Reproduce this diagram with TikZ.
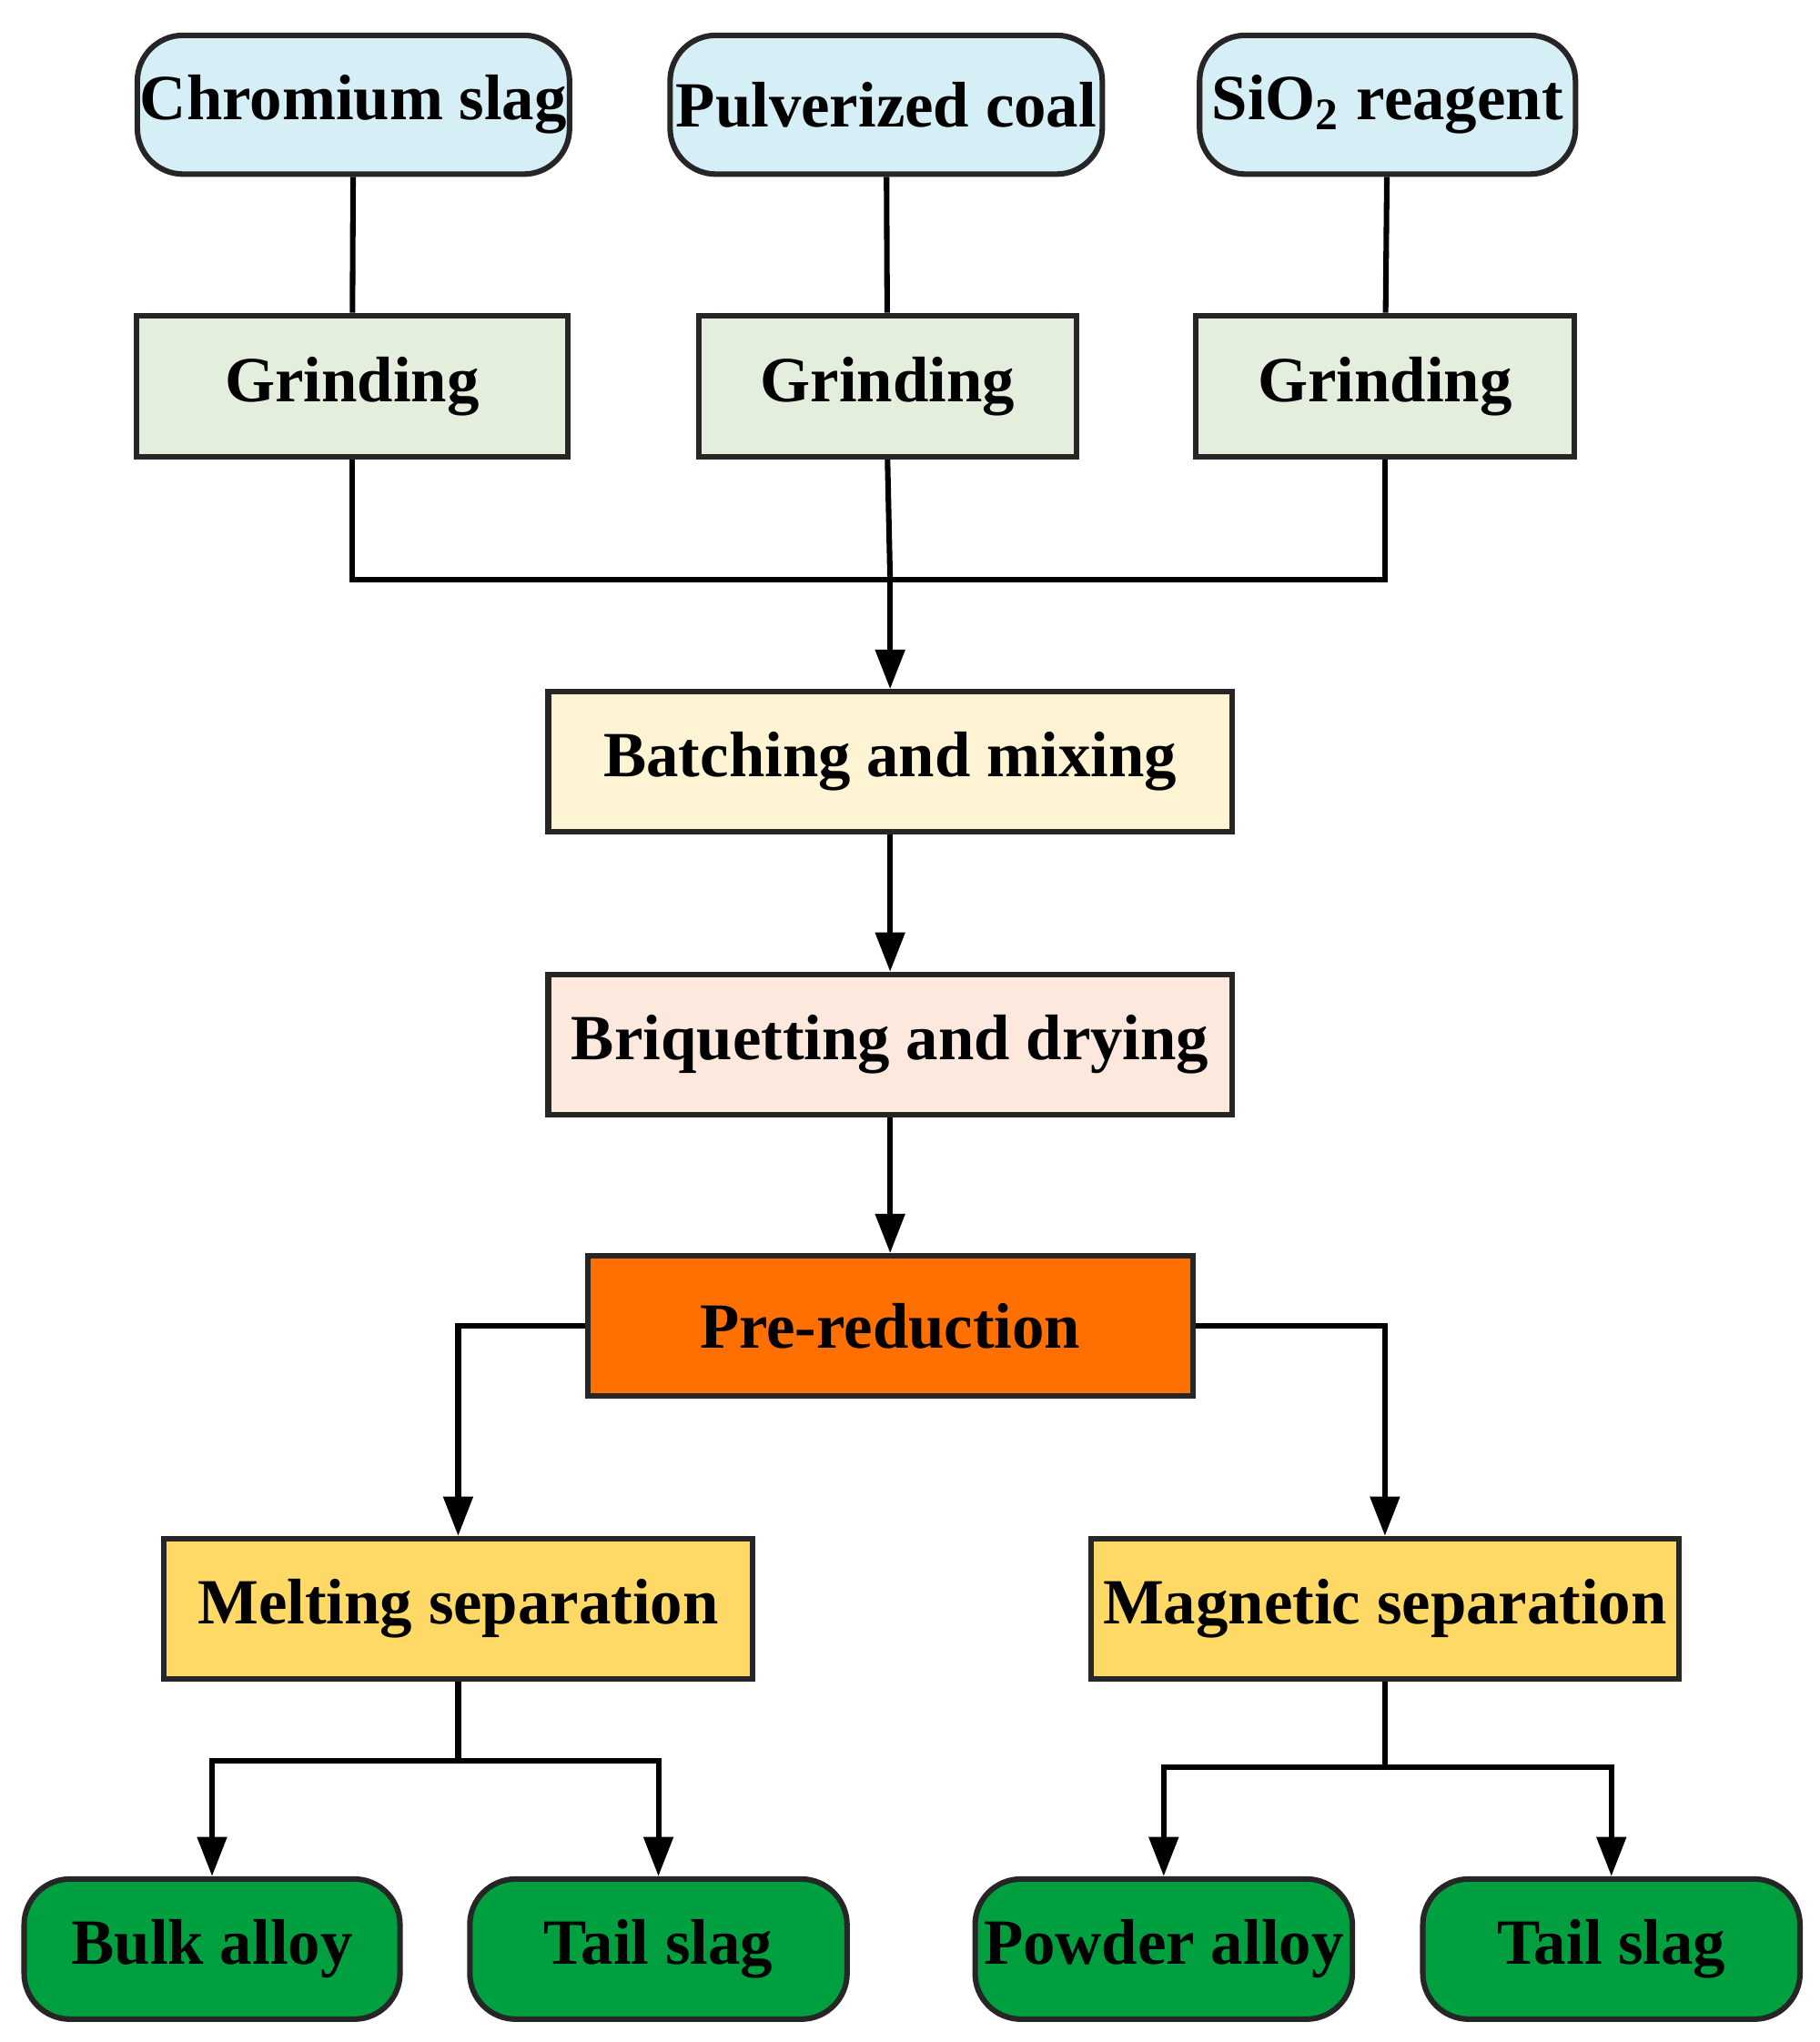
\documentclass[tikz,border=0pt]{standalone}
\usepackage{fontspec}
\setmainfont{Liberation Serif}
\usetikzlibrary{arrows.meta}
\begin{document}
\begin{tikzpicture}[x=0.01cm,y=-0.01cm,
 box/.style={draw=black!85,line width=1.2pt,font=\fontsize{14}{16}\selectfont\bfseries,inner sep=0pt},
 rbox/.style={box,rounded corners=0.35cm},
 ln/.style={line width=1.2pt},
 ar/.style={ln,-{Triangle[length=0.3cm,width=0.22cm]}}]
\useasboundingbox (0,0) rectangle (1390,1560);
\definecolor{cblue}{HTML}{D6EEF5}
\definecolor{cgreen}{HTML}{E4EEDD}
\definecolor{cbatch}{HTML}{FEF4D4}
\definecolor{cbriq}{HTML}{FCE8DD}
\definecolor{cpre}{HTML}{FF7000}
\definecolor{cyel}{HTML}{FFD966}
\definecolor{cout}{HTML}{00A040}
\def\bx#1#2#3#4#5#6#7{\node[#7,fill=#6,minimum width={(#3-#2)*0.01cm},minimum height={(#5-#4)*0.01cm}] (#1) at ({(#2+#3)/2},{(#4+#5)/2}) {};}
\node[rbox,fill=cblue,minimum width=3.3cm,minimum height=1.06cm] (cs) at (270,80) {Chromium slag};
\node[rbox,fill=cblue,minimum width=3.3cm,minimum height=1.06cm] (pc) at (677,80) {Pulverized coal};
\node[rbox,fill=cblue,minimum width=2.87cm,minimum height=1.06cm] (si) at (1060,80) {SiO\textsubscript{2} reagent};
\node[box,fill=cgreen,minimum width=3.29cm,minimum height=1.08cm] (g1) at (269,295) {Grinding};
\node[box,fill=cgreen,minimum width=2.88cm,minimum height=1.08cm] (g2) at (678,295) {Grinding};
\node[box,fill=cgreen,minimum width=2.89cm,minimum height=1.08cm] (g3) at (1058,295) {Grinding};
\node[box,fill=cbatch,minimum width=5.22cm,minimum height=1.07cm] (bm) at (680,582) {Batching and mixing};
\node[box,fill=cbriq,minimum width=5.22cm,minimum height=1.07cm] (bd) at (680,798) {Briquetting and drying};
\node[box,fill=cpre,minimum width=4.62cm,minimum height=1.07cm] (pr) at (680,1013) {Pre-reduction};
\node[box,fill=cyel,minimum width=4.5cm,minimum height=1.07cm] (ms) at (350,1229) {Melting separation};
\node[box,fill=cyel,minimum width=4.49cm,minimum height=1.07cm] (mg) at (1058,1229) {Magnetic separation};
\node[rbox,fill=cout,minimum width=2.87cm,minimum height=1.07cm] (ba) at (162,1489) {Bulk alloy};
\node[rbox,fill=cout,minimum width=2.88cm,minimum height=1.07cm] (t1) at (503,1489) {Tail slag};
\node[rbox,fill=cout,minimum width=2.88cm,minimum height=1.07cm] (pa) at (889,1489) {Powder alloy};
\node[rbox,fill=cout,minimum width=2.88cm,minimum height=1.07cm] (t2) at (1231,1489) {Tail slag};
\coordinate (m) at (680,443);
\draw[ln] (cs) -- (g1); \draw[ln] (pc) -- (g2); \draw[ln] (si) -- (g3);
\draw[ln] (g1.south) |- (m) -| (g3.south);
\draw[ln] (g2.south) -- (m);
\draw[ar] (m) -- (bm.north);
\draw[ar] (bm) -- (bd);
\draw[ar] (bd) -- (pr);
\draw[ar] (pr.west) -| (ms.north);
\draw[ar] (pr.east) -| (mg.north);
\coordinate (a) at (350,1345); \coordinate (b) at (1058,1350);
\draw[ln] (ms.south) -- (a); \draw[ar] (a) -| (ba.north); \draw[ar] (a) -| (t1.north);
\draw[ln] (mg.south) -- (b); \draw[ar] (b) -| (pa.north); \draw[ar] (b) -| (t2.north);
\end{tikzpicture}
\end{document}
